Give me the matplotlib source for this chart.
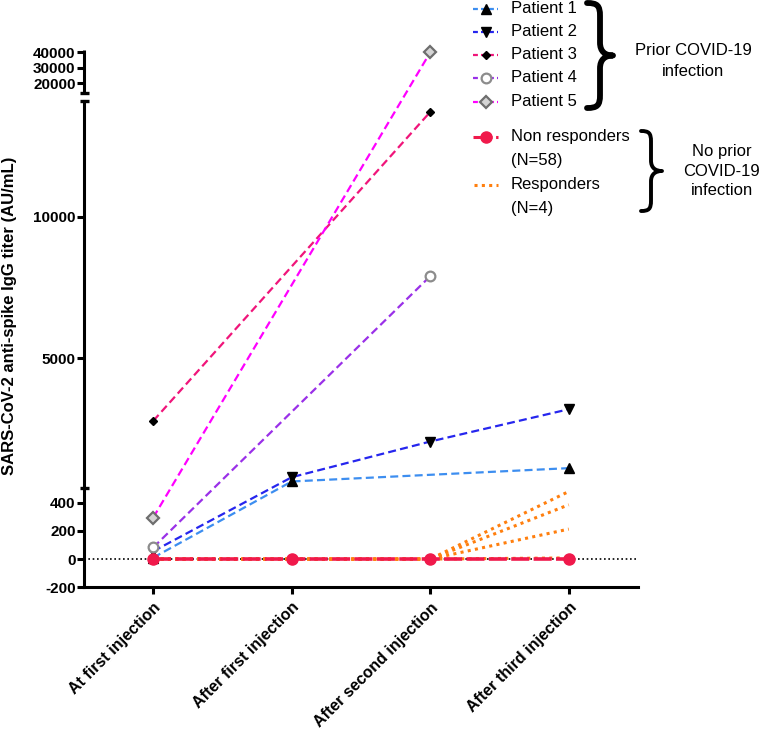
import numpy as np
import matplotlib
matplotlib.use("Agg")
import matplotlib.pyplot as plt
from matplotlib.lines import Line2D
from matplotlib.path import Path
from matplotlib.patches import PathPatch
import matplotlib.transforms as mtransforms

plt.rcParams['font.family'] = ['Liberation Sans', 'DejaVu Sans']

# ---------------- data ----------------
categories = ["At first injection", "After first injection",
              "After second injection", "After third injection"]

patient1 = [10, 650, None, 1120]
patient2 = [55, 800, 2060, 3200]
patient3 = [2790, None, 13700, None]
patient4 = [82, None, 7900, None]
patient5 = [294, None, 39800, None]

non_responders = [0, 0, 0, 0]
responder_a = [0, 0, 0, 478]
responder_b = [0, 0, 0, 384]
responder_c = [0, 0, 0, 212]
responder_d = [0, 0, 0, 8]

ytick_values = [-200, 0, 200, 400, 5000, 10000, 20000, 30000, 40000]

# ---------------- figure ----------------
W, H = 762, 731
fig = plt.figure(figsize=(W / 100, H / 100), dpi=100)
ax = fig.add_axes([84 / W, 1 - 587.3 / H, (638 - 84) / W, (587.3 - 50) / H])

# segmented (broken) y axis: piecewise linear scale
XP = [-1000, -200, 500, 500.0001, 14100, 14100.0001, 40000, 60000]
FP = [-113.2, 0, 98.9, 101.6, 486.7, 494.8, 535.3, 566.6]


def fwd(v):
    return np.interp(v, XP, FP)


def inv(u):
    return np.interp(u, FP, XP)


ax.set_yscale('function', functions=(fwd, inv))
YTOP = 41279
ax.set_ylim(-200, YTOP)
ax.set_xlim(-0.5, 3.5)

xs = np.arange(len(categories))


def series(vals):
    x = [i for i, v in enumerate(vals) if v is not None]
    y = [v for v in vals if v is not None]
    return x, y


dash = (0, (3.6, 1.9))
LW = 1.6

ax.axhline(0, color='black', lw=1.2, ls=(0, (1, 1.6)), zorder=1)

for r in (responder_a, responder_b, responder_c, responder_d):
    x, y = series(r)
    ax.plot(x, y, color='#ff7f0e', lw=2.2, ls=(0, (1, 1.4)), zorder=2)

styles = [
    (patient1, '#3d8ef0', dict(marker='^', ms=6.5, mfc='black', mec='black')),
    (patient2, '#2626ee', dict(marker='v', ms=6.5, mfc='black', mec='black')),
    (patient3, '#f0157a', dict(marker='D', ms=4.2, mfc='black', mec='black')),
    (patient4, '#9a30e8', dict(marker='o', ms=7, mfc='white', mec='#8c8c8c', mew=1.6)),
    (patient5, '#ff00ff', dict(marker='D', ms=6, mfc='#d4d4d4', mec='#6e6e6e', mew=1.6)),
]
for vals, col, mk in styles:
    x, y = series(vals)
    ax.plot(x, y, color=col, lw=LW, ls=dash, zorder=3)
    ax.plot(x, y, ls='none', zorder=4, clip_on=False, **mk)

x, y = series(non_responders)
ax.plot(x, y, color='#f0194b', lw=2.6, ls=(0, (5, 1.2)), zorder=5,
        marker='o', ms=8, mfc='#f0194b', mec='#f0194b')

# axes styling
for s in ('top', 'right', 'left'):
    ax.spines[s].set_visible(False)
ax.spines['bottom'].set_linewidth(2.2)
ax.tick_params(axis='both', length=5, width=2.2, direction='out', pad=1)
ax.set_xticks(xs)
ax.set_xticklabels(categories, rotation=45, ha='right', va='top',
                   rotation_mode='anchor', fontweight='bold', fontsize=11.5)
ax.set_yticks(ytick_values)
ax.set_yticklabels([str(v) for v in ytick_values], fontweight='bold', fontsize=11)
ax.tick_params(axis='x', pad=4)
ax.yaxis.set_minor_locator(matplotlib.ticker.NullLocator())

ytr = ax.get_yaxis_transform()
ax.plot([0, 0], [-200, 14100], transform=ytr, color='black', lw=2.2,
        clip_on=False, solid_capstyle='projecting', zorder=6)
ax.plot([0, 0], [14100.0001, YTOP], transform=ytr, color='black', lw=2.2,
        clip_on=False, solid_capstyle='butt', zorder=6)
hw = 4.5 / 554
for v in (500, 14100, 14100.0001):
    ax.plot([-hw, hw], [v, v], transform=ytr, color='black', lw=2.4,
            clip_on=False, solid_capstyle='butt', zorder=6)

fig.text(10 / W, 1 - 316 / H, "SARS-CoV-2 anti-spike IgG titer (AU/mL)",
         rotation=90, ha='center', va='center', fontweight='bold', fontsize=12)

# ---------------- legend (manual) ----------------
def F(x, y):
    return x / W, 1 - y / H


leg_labels = ["Patient 1", "Patient 2", "Patient 3", "Patient 4", "Patient 5"]
leg_y = [8.5, 31.5, 54.5, 78, 101.5]
for (vals, col, mk), lab, yy in zip(styles, leg_labels, leg_y):
    fx0, fy = F(473, yy)
    fx1, _ = F(498, yy)
    fxm, _ = F(485.5, yy)
    fig.add_artist(Line2D([fx0, fx1], [fy, fy], transform=fig.transFigure,
                          color=col, lw=LW, ls=(0, (2.2, 1.4))))
    fig.add_artist(Line2D([fxm], [fy], transform=fig.transFigure, ls='none', **mk))
    fig.text(*F(511, yy), lab, ha='left', va='center', fontsize=12)

fx0, fy = F(473, 137)
fx1, _ = F(498, 137)
fig.add_artist(Line2D([fx0, fx1], [fy, fy], transform=fig.transFigure,
                      color='#f0194b', lw=2.2, ls=(0, (2.5, 1.2))))
fig.add_artist(Line2D([F(485.5, 137)[0]], [fy], transform=fig.transFigure,
                      ls='none', marker='o', ms=8, mfc='#f0194b', mec='#f0194b'))
fig.text(*F(511, 137), "Non responders", ha='left', va='center', fontsize=12)
fig.text(*F(511, 160), "(N=58)", ha='left', va='center', fontsize=12)

fx0, fy = F(474, 185)
fx1, _ = F(498, 185)
fig.add_artist(Line2D([fx0, fx1], [fy, fy], transform=fig.transFigure,
                      color='#ff7f0e', lw=2.2, ls=(0, (1, 1.4))))
fig.text(*F(511, 185), "Responders", ha='left', va='center', fontsize=12)
fig.text(*F(511, 208), "(N=4)", ha='left', va='center', fontsize=12)


def brace(xl, xm, xt, yt, yb, lw):
    ym = (yt + yb) / 2
    r = (xt - xl) * 0.5
    verts = [(xl, yt),
             (xl + 0.8 * (xm - xl), yt), (xm, yt + 0.2 * r), (xm, yt + r),
             (xm, ym - r),
             (xm, ym - 0.3 * r), (xm + 0.4 * (xt - xm), ym), (xt, ym),
             (xm + 0.4 * (xt - xm), ym), (xm, ym + 0.3 * r), (xm, ym + r),
             (xm, yb - r),
             (xm, yb - 0.2 * r), (xl + 0.8 * (xm - xl), yb), (xl, yb)]
    codes = [Path.MOVETO] + [Path.CURVE4] * 3 + [Path.LINETO] + [Path.CURVE4] * 6 \
        + [Path.LINETO] + [Path.CURVE4] * 3
    tr = mtransforms.Affine2D().scale(1 / W, -1 / H).translate(0, 1) + fig.transFigure
    fig.add_artist(PathPatch(Path(verts, codes), fill=False, lw=lw, ec='black',
                             transform=tr, capstyle='round', joinstyle='round'))


brace(587, 600, 613, 3, 108, 4.2)
brace(641, 651, 662, 131, 211, 2.8)

fig.text(*F(693, 61), "Prior COVID-19\ninfection", ha='center', va='center',
         fontsize=12, linespacing=1.45)
fig.text(*F(722, 171), "No prior\nCOVID-19\ninfection", ha='center', va='center',
         fontsize=12, linespacing=1.4)

fig.savefig("out.png", dpi=100)
